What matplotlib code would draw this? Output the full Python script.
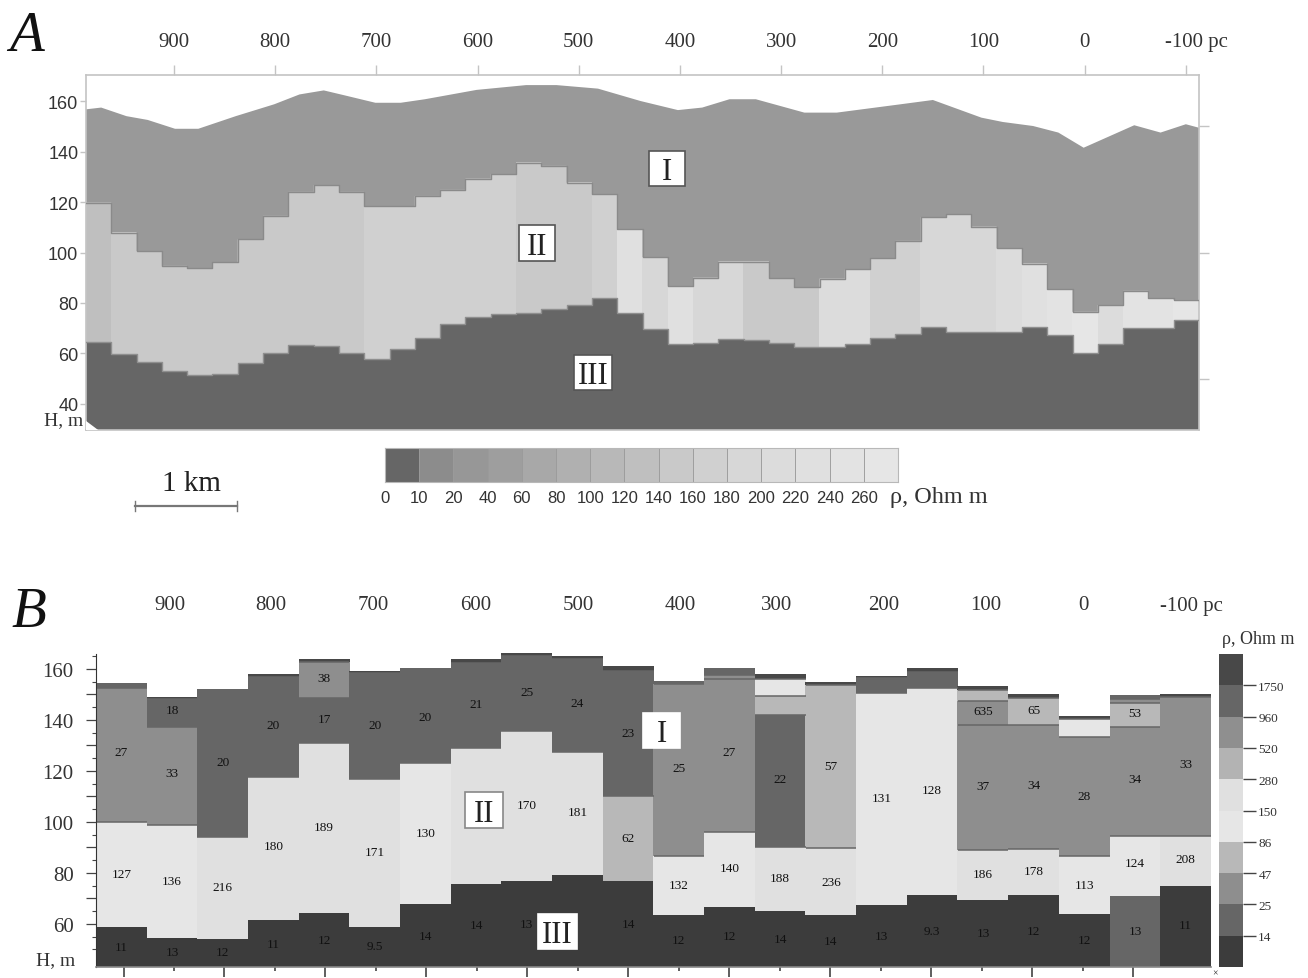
import numpy as np
import matplotlib
matplotlib.use("Agg")
import matplotlib.pyplot as plt
from matplotlib.patches import Rectangle

W, H = 1308, 979
SERIF = "Liberation Serif"
SANS = "Liberation Sans"

# ---------- Panel A data ----------
surface_pc = [987, 972, 947, 926, 899, 876, 839, 801, 776, 752, 731, 701, 676, 652, 601, 552, 522, 481,
              439, 402, 378, 351, 325, 277, 245, 182, 150, 102, 81, 51, 26, 1, -49, -75, -100, -113]
surface_h = [156.7, 157.4, 154, 152.5, 149, 149, 154, 158.7, 162.6, 164.2, 162.2, 159.3, 159.3, 160.7, 164.4, 166.3, 166.3, 164.9,
             160, 156.4, 157.4, 160.7, 160.7, 155.4, 155.4, 158.7, 160.4, 153.4, 151.7, 150.1, 147.5, 141.5, 150.4, 147.5, 150.8, 149.4]
top_II = [119.7, 107.9, 100.6, 94.7, 93.7, 96.2, 105.2, 114.5, 124, 126.7, 124, 118.4, 118.4, 122.4, 124.8, 129.2, 131, 135.6,
          134.3, 127.7, 123, 109.2, 98.2, 86.7, 90, 96.4, 96.4, 89.8, 86.3, 89.6, 93.3, 97.7, 104.6, 114, 115.1, 110.2,
          101.6, 95.6, 85.4, 76.5, 79.2, 84.8, 81.8, 81.2]
top_III = [64.6, 59.7, 56.7, 53.1, 51.4, 51.8, 56.4, 60.3, 63.2, 63, 60.1, 57.7, 61.6, 66.2, 71.6, 74.6, 75.5, 76.2,
           77.8, 79.1, 81.8, 76.2, 69.8, 63.6, 64, 65.6, 65.3, 64.3, 62.6, 62.6, 63.6, 66.3, 67.6, 70.6, 68.6, 68.6,
           68.6, 70.6, 67.3, 60.3, 63.6, 70.2, 70.2, 73.3]
rho_II = [130, 150, 150, 150, 150, 150, 150, 150, 150, 150, 150, 170, 170, 170, 170, 170, 170, 150,
          150, 150, 170, 230, 190, 230, 190, 190, 150, 150, 150, 210, 210, 170, 170, 190, 190, 190,
          210, 230, 250, 270, 210, 250, 250, 270]
scale_labels_A = ["0", "10", "20", "40", "60", "80", "100", "120", "140", "160", "180", "200", "220", "240", "260"]
scale_edges_A = [0, 10, 20, 40, 60, 80, 100, 120, 140, 160, 180, 200, 220, 240, 260]
scale_grays_A = ["#666666", "#8c8c8c", "#979797", "#9e9e9e", "#a8a8a8", "#b0b0b0", "#b8b8b8", "#bfbfbf",
                 "#c9c9c9", "#d0d0d0", "#d7d7d7", "#dcdcdc", "#e0e0e0", "#e3e3e3", "#e6e6e6"]
top_tick_pc = [900, 800, 700, 600, 500, 400, 300, 200, 100, 0, -100]
top_tick_labels = ["900", "800", "700", "600", "500", "400", "300", "200", "100", "0", ""]

# ---------- Panel B data (each column: layers from the bottom up) ----------
col_tops = [
    [58.7, 100.1, 152.4, 154.4],
    [54.5, 98.6, 137.1, 148.2, 148.9],
    [53.9, 94, 150.5, 152.2],
    [61.6, 117.5, 156.7, 158],
    [64.2, 130.8, 148.5, 162.6, 163.9],
    [58.7, 116.9, 158.3, 159.1],
    [67.8, 123.1, 158.7, 160.3],
    [75.7, 128.9, 162.4, 163.9],
    [77, 135.6, 165.2, 166.1],
    [79.3, 127.6, 163.9, 165],
    [77, 110.1, 158.3, 159.3, 161],
    [63.5, 86.5, 154.1, 155.4],
    [66.8, 96.2, 156.1, 157.6, 160.3],
    [65.2, 90.1, 142, 149.5, 156.1, 158],
    [63.3, 89.7, 153.7, 154.8],
    [67.4, 150.5, 156.5, 157.1],
    [71.4, 152.4, 158.7, 160.3],
    [69.4, 88.8, 138, 147.6, 151.8, 153.2],
    [71.4, 89.4, 138, 148.5, 150.2],
    [63.9, 86.5, 133.2, 140.4, 141.4],
    [71.1, 94.6, 137.1, 146.7, 148.2, 149.8],
    [75, 94.6, 148.9, 150],
]
col_bins = [
    [0, 4, 2, 1],
    [0, 4, 2, 1, 9],
    [0, 5, 1, 1],
    [0, 5, 1, 9],
    [0, 5, 1, 2, 9],
    [0, 5, 1, 9],
    [0, 4, 1, 1],
    [0, 5, 1, 9],
    [0, 5, 1, 9],
    [0, 5, 1, 9],
    [0, 3, 1, 1, 9],
    [0, 4, 2, 1],
    [0, 4, 2, 2, 1],
    [0, 5, 1, 3, 4, 9],
    [0, 5, 3, 9],
    [0, 4, 1, 9],
    [0, 4, 1, 9],
    [0, 5, 2, 2, 3, 9],
    [0, 5, 2, 3, 9],
    [0, 4, 2, 4, 9],
    [1, 4, 2, 3, 2, 1],
    [0, 5, 2, 9],
]
col_labels = [
    ["11", "127", "27", None],
    ["13", "136", "33", "18", None],
    ["12", "216", "20", None],
    ["11", "180", "20", None],
    ["12", "189", "17", "38", None],
    ["9.5", "171", "20", None],
    ["14", "130", "20", None],
    ["14", None, "21", None],
    ["13", "170", "25", None],
    [None, "181", "24", None],
    ["14", "62", "23", None, None],
    ["12", "132", "25", None],
    ["12", "140", "27", None, None],
    ["14", "188", "22", None, None, None],
    ["14", "236", "57", None],
    ["13", "131", None, None],
    ["9.3", "128", None, None],
    ["13", "186", "37", "635", None, None],
    ["12", "178", "34", "65", None],
    ["12", "113", "28", None, None],
    ["13", "124", "34", "53", None, None],
    ["11", "208", "33", None],
]
col_label_h = [
    [50.8, 79.6, 127.3, 0],
    [48.9, 77, 119.1, 143.7, 0],
    [48.9, 74.4, 123.4, 0],
    [52.2, 90.5, 138, 0],
    [53.7, 97.9, 140.4, 156.3, 0],
    [51.2, 88.1, 138, 0],
    [55.4, 95.7, 141.3, 0],
    [59.6, 0, 146.3, 0],
    [60, 106.8, 151.1, 0],
    [0, 104, 146.7, 0],
    [60, 93.6, 134.8, 0, 0],
    [53.5, 75.3, 121.2, 0],
    [55.4, 81.8, 127.3, 0, 0],
    [54.1, 78, 116.9, 0, 0, 0],
    [53.2, 76.6, 122.1, 0],
    [55.4, 109.4, 0, 0],
    [57.4, 112.5, 0, 0],
    [56.5, 79.6, 114.2, 143.4, 0, 0],
    [57.4, 80.7, 114.6, 143.9, 0],
    [53.5, 75.4, 110.3, 0, 0],
    [57.4, 83.9, 116.9, 142.8, 0, 0],
    [59.6, 85.5, 122.7, 0],
]
scale_grays_B = ["#3c3c3c", "#666666", "#8e8e8e", "#b8b8b8", "#e6e6e6", "#e0e0e0", "#b3b3b3", "#8f8f8f", "#666666", "#484848"]
scale_labels_B = ["14", "25", "47", "86", "150", "280", "520", "960", "1750"]
b_label_text = ["900", "800", "700", "600", "500", "400", "300", "200", "100", "0", "-100 pc"]


def axes_px(l, t, r, b, **kw):
    return fig.add_axes([l / W, 1 - b / H, (r - l) / W, (b - t) / H], **kw)


def ftext(x, y, s, **kw):
    kw.setdefault("family", SERIF)
    kw.setdefault("color", "#222222")
    fig.text(x / W, 1 - y / H, s, **kw)


def roman(x0, y0, x1, y1, s, edge):
    fig.add_artist(Rectangle((x0 / W, 1 - y1 / H), (x1 - x0) / W, (y1 - y0) / H, transform=fig.transFigure,
                             facecolor="white", edgecolor=edge, lw=1.2, zorder=10))
    ftext((x0 + x1) / 2, (y0 + y1) / 2, s, ha="center", va="center_baseline", fontsize=22, zorder=11)


fig = plt.figure(figsize=(W / 100, H / 100), dpi=100, facecolor="white")

# ---------- Panel A ----------
ax = axes_px(86, 76, 1199, 431)
ax.set_xlim(987, -113)
ax.set_ylim(29.7, 170.3)
col_w = 25
edges_A = 987 - col_w * np.arange(len(top_II) + 1)
centers_A = (edges_A[:-1] + edges_A[1:]) / 2


def shade_A(v):
    idx = np.searchsorted(scale_edges_A, v, side="right") - 1
    return scale_grays_A[idx]


ax.bar(centers_A, np.array(top_II) - np.array(top_III), bottom=top_III, width=col_w * 1.02,
       color=[shade_A(v) for v in rho_II], linewidth=0, zorder=1)


def step_xy(vals):
    xs = np.repeat(edges_A, 2)[1:-1]
    ys = np.repeat(vals, 2)
    return xs, ys


sx, sy = step_xy(top_II)
ax.fill(np.r_[surface_pc, sx[::-1]], np.r_[surface_h, sy[::-1]], color="#999999", lw=0, zorder=2)
ax.plot(sx, sy, color="#8a8a8a", lw=1.0, zorder=3)
sx3, sy3 = step_xy(top_III)
ax.fill(np.r_[sx3, sx3[::-1]], np.r_[sy3, np.full_like(sy3, 29.7)], color="#666666", lw=0, zorder=2)
ax.plot(sx3, sy3, color="#8f8f8f", lw=1.0, zorder=3)
ax.fill([987, 987, 975], [29.7, 33.3, 29.7], color="white", lw=0, zorder=4)

for s in ax.spines.values():
    s.set_color("#c4c4c4")
    s.set_linewidth(1.2)
ax.set_yticks([160, 140, 120, 100, 80, 60, 40])
ax.tick_params(axis="y", left=True, length=4, width=1, color="#c4c4c4", pad=1.5, labelsize=13, labelcolor="#333333")
for t in ax.get_yticklabels():
    t.set_family(SANS)
ax.xaxis.tick_top()
ax.set_xticks(top_tick_pc)
ax.set_xticklabels(top_tick_labels, family=SERIF, fontsize=15, color="#333333")
ax.tick_params(axis="x", top=True, length=7, width=1, color="#c4c4c4", pad=10)
axr = ax.twinx()
axr.set_ylim(ax.get_ylim())
axr.set_yticks([150, 100, 50])
axr.set_yticklabels([])
axr.tick_params(axis="y", length=7, width=1, color="#c4c4c4")
for s in axr.spines.values():
    s.set_visible(False)

ftext(1165, 42, "-100 pc", ha="left", va="center", fontsize=15, color="#333333")
ftext(83, 421, "H, m", ha="right", va="center", fontsize=14, color="#333333")
ftext(9, 37, "A", ha="left", va="center", fontsize=41, style="italic", color="#111111")
roman(649, 152, 685, 187, "I", "#555555")
roman(519, 226, 555, 262, "II", "#555555")
roman(574, 356, 612, 391, "III", "#555555")

# scale bar
ftext(191, 484, "1 km", ha="center", va="center", fontsize=21)
axs = axes_px(130, 498, 242, 516)
axs.set_axis_off()
axs.set_xlim(130, 242)
axs.set_ylim(516, 498)
axs.plot([135, 237], [507, 507], color="#777777", lw=1.6)
axs.plot([135, 135], [502, 512], color="#777777", lw=1)
axs.plot([237, 237], [502, 512], color="#777777", lw=1)

# horizontal legend
axl = axes_px(385, 449, 898, 483)
for i, c in enumerate(scale_grays_A):
    axl.bar(i + 0.5, 1, width=1, color=c, edgecolor="#9a9a9a", linewidth=0.6)
axl.set_xlim(0, len(scale_grays_A))
axl.set_ylim(0, 1)
axl.set_yticks([])
axl.set_xticks(np.arange(len(scale_labels_A)))
axl.set_xticklabels(scale_labels_A, family=SANS, fontsize=12, color="#333333")
axl.tick_params(axis="x", length=0, pad=6)
for s in axl.spines.values():
    s.set_color("#b8b8b8")
ftext(890, 498, "\u03c1, Ohm m", ha="left", va="center", fontsize=17.5, color="#333333")

# ---------- Panel B ----------
bx = axes_px(96, 650, 1211, 968)
bx.set_xlim(977.3, -127.3)
bx.set_ylim(43.1, 167.8)
n_cols = len(col_tops)
col_w_b = (977.3 + 127.3) / n_cols
centers_B = 977.3 - col_w_b * (np.arange(n_cols) + 0.5)
for c, tops, bins, labels, lh in zip(centers_B, col_tops, col_bins, col_labels, col_label_h):
    lows = [43.1] + tops[:-1]
    for j, (lo, hi, b, lab, yy) in enumerate(zip(lows, tops, bins, labels, lh)):
        bx.bar(c, hi - lo, bottom=lo, width=col_w_b * 1.005, color=scale_grays_B[b], linewidth=0, zorder=1)
        if j >= 2:
            bx.plot([c - col_w_b / 2, c + col_w_b / 2], [lo, lo], color="#666666", lw=1.1, zorder=2,
                    solid_capstyle="butt")
        if lab:
            bx.text(c, yy, lab, ha="center", va="center", family=SERIF, fontsize=9.5, color="#111111", zorder=3)

for n in ("top", "right"):
    bx.spines[n].set_visible(False)
bx.spines["left"].set_color("#333333")
bx.spines["left"].set_bounds(43.1, 166)
bx.spines["bottom"].set_color("#888888")
bx.spines["bottom"].set_linewidth(1.2)
bx.set_yticks(np.arange(60, 170, 10))
bx.set_yticklabels(["60", "", "80", "", "100", "", "120", "", "140", "", "160"], family=SERIF, fontsize=15, color="#333333")
bx.set_yticks(np.arange(50, 170, 5), minor=True)
bx.tick_params(axis="y", which="major", length=7, width=0.9, color="#444444", pad=9)
bx.tick_params(axis="y", which="minor", length=3, width=0.8, color="#444444")
bx.set_xticks(np.arange(950, -100, -100))
bx.set_xticks(np.arange(900, -100, -100), minor=True)
bx.set_xticklabels([])
bx.tick_params(axis="x", which="major", length=7.5, width=1.1, color="#333333")
bx.tick_params(axis="x", which="minor", length=3, width=1.1, color="#333333")

for x, s in zip([170, 271, 373, 476, 578, 680, 777, 884, 986, 1083], b_label_text):
    ftext(x, 606, s, ha="center", va="center", fontsize=15, color="#333333")
ftext(1160, 606, b_label_text[-1], ha="left", va="center", fontsize=15, color="#333333")
ftext(75, 961, "H, m", ha="right", va="center", fontsize=14, color="#333333")
ftext(11, 613, "B", ha="left", va="center", fontsize=41, style="italic", color="#111111")
ftext(1215, 974, "\u00d7", ha="center", va="center", fontsize=7)
roman(643, 714, 680, 749, "I", "white")
roman(465, 793, 503, 829, "II", "#888888")
roman(538, 915, 577, 950, "III", "white")

# vertical legend
axc = axes_px(1219, 655, 1243, 968)
for i, c in enumerate(scale_grays_B):
    axc.bar(0.5, 1, bottom=i, width=1, color=c, linewidth=0)
axc.set_xlim(0, 1)
axc.set_ylim(0, len(scale_grays_B))
axc.set_xticks([])
axc.yaxis.tick_right()
axc.set_yticks(np.arange(1, len(scale_grays_B)))
axc.set_yticklabels(scale_labels_B, family=SERIF, fontsize=9.5, color="#333333")
axc.tick_params(axis="y", length=9, width=1, color="#444444", pad=2)
for s in axc.spines.values():
    s.set_visible(False)
ftext(1222, 640, "\u03c1, Ohm m", ha="left", va="center", fontsize=13, color="#333333")

fig.savefig("out.png", dpi=100, facecolor="white")
